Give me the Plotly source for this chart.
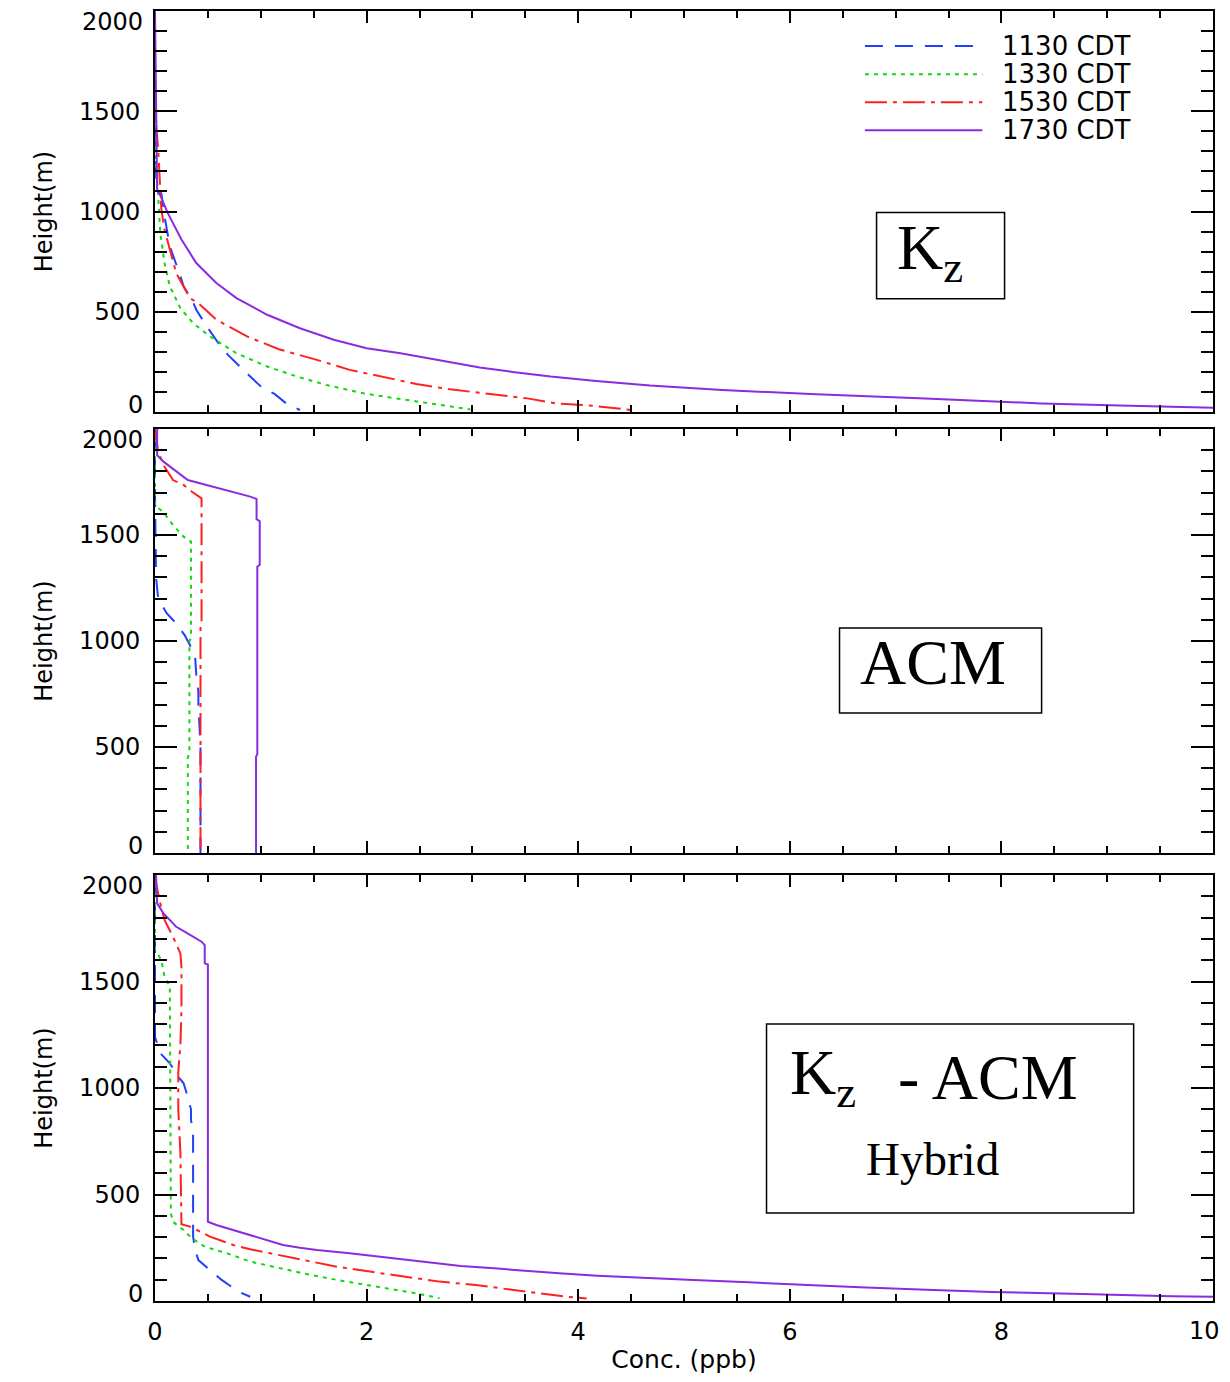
import plotly.graph_objects as go

# ---------------- data ----------------
times = ["1130 CDT", "1330 CDT", "1530 CDT", "1730 CDT"]

# Panel 1 : Kz
kz_1130_c = [0, 0, 0.02, 0.06, 0.09, 0.14, 0.24, 0.27, 0.35, 0.39, 0.49, 0.61, 0.69, 0.80, 0.90, 1.02, 1.13, 1.24, 1.37]
kz_1130_h = [2000, 1250, 1110, 1090, 977, 827, 677, 627, 560, 510, 427, 335, 285, 227, 177, 118, 90, 43, 10]
kz_1330_c = [0, 0, 0.03, 0.05, 0.09, 0.14, 0.24, 0.36, 0.52, 0.77, 1.06, 1.34, 1.62, 1.97, 2.28, 2.63, 2.98]
kz_1330_h = [2000, 1300, 1077, 893, 743, 627, 518, 443, 377, 293, 227, 177, 135, 93, 68, 40, 13]
kz_1530_c = [0, 0, 0.03, 0.05, 0.06, 0.09, 0.14, 0.20, 0.33, 0.41, 0.58, 0.87, 1.17, 1.53, 1.84, 2.16, 2.47, 2.79, 3.10, 3.52, 3.79, 4.10, 4.46, 4.50]
kz_1530_h = [2000, 1500, 1310, 1110, 1010, 910, 810, 693, 568, 543, 460, 377, 313, 260, 210, 173, 140, 113, 95, 68, 43, 33, 13, 10]
kz_1730_c = [0, 0.01, 0.02, 0.05, 0.12, 0.25, 0.39, 0.58, 0.77, 1.06, 1.37, 1.69, 2.00, 2.32, 3.07, 3.38, 3.74, 4.17, 4.68, 5.36, 6.25, 7.28, 8.38, 9.12, 9.80, 10.5]
kz_1730_h = [2000, 1520, 1110, 1080, 993, 860, 743, 643, 568, 485, 418, 360, 318, 293, 222, 200, 177, 155, 132, 110, 88, 67, 43, 33, 23, 15]

# Panel 2 : ACM
acm_1130_c = [0, 0, 0.01, 0.03, 0.11, 0.20, 0.28, 0.33, 0.38, 0.39, 0.41, 0.41, 0.42, 0.43, 0.43]
acm_1130_h = [2000, 1700, 1300, 1200, 1131, 1083, 1028, 981, 920, 840, 760, 700, 600, 500, 0]
acm_1330_c = [0, 0, 0.08, 0.17, 0.27, 0.34, 0.34, 0.325, 0.325, 0.31, 0.31]
acm_1330_h = [2000, 1640, 1607, 1547, 1492, 1469, 1013, 1000, 470, 450, 0]
acm_1530_c = [0, 0.03, 0.09, 0.17, 0.27, 0.35, 0.44, 0.44, 0.43, 0.43]
acm_1530_h = [2000, 1893, 1822, 1759, 1736, 1704, 1673, 1075, 1060, 0]
acm_1730_c = [0.02, 0.02, 0.08, 0.20, 0.31, 0.46, 0.61, 0.77, 0.90, 0.96, 0.96, 0.99, 0.99, 0.967, 0.967, 0.955, 0.955]
acm_1730_h = [2000, 1877, 1846, 1799, 1759, 1739, 1720, 1697, 1681, 1670, 1575, 1565, 1360, 1350, 465, 455, 0]

# Panel 3 : Kz - ACM hybrid
hyb_1130_c = [0, 0, 0.05, 0.14, 0.22, 0.27, 0.29, 0.34, 0.34, 0.36, 0.36, 0.38, 0.41, 0.55, 0.63, 0.79, 0.90]
hyb_1130_h = [2000, 1240, 1163, 1116, 1053, 1022, 991, 900, 850, 800, 302, 239, 192, 130, 99, 44, 20]
hyb_1330_c = [0, 0, 0.06, 0.09, 0.14, 0.15, 0.17, 0.27, 0.35, 0.47, 0.68, 0.90, 1.12, 1.40, 1.72, 2.10, 2.47, 2.69]
hyb_1330_h = [2000, 1650, 1601, 1523, 1476, 412, 372, 333, 294, 255, 224, 185, 161, 130, 99, 67, 36, 13]
hyb_1530_c = [0, 0.01, 0.05, 0.09, 0.17, 0.24, 0.25, 0.25, 0.24, 0.22, 0.22, 0.24, 0.25, 0.33, 0.43, 0.52, 0.74, 0.90, 1.09, 1.40, 1.72, 2.03, 2.35, 2.69, 3.03, 3.27, 3.55, 3.89, 4.08]
hyb_1530_h = [2000, 1961, 1867, 1789, 1710, 1632, 1570, 1366, 1200, 1076, 900, 700, 360, 349, 325, 302, 263, 243, 224, 192, 161, 138, 114, 91, 75, 60, 44, 20, 12]
hyb_1730_c = [0.01, 0.02, 0.08, 0.14, 0.20, 0.28, 0.36, 0.44, 0.47, 0.47, 0.50, 0.50, 0.58, 0.74, 0.90, 1.06, 1.21, 1.37, 1.53, 1.84, 2.16, 2.47, 2.66, 2.89, 3.24, 3.51, 3.82, 4.18, 4.61, 5.09, 5.61, 6.14, 6.66, 7.29, 7.91, 8.77, 9.61, 10.3]
hyb_1730_h = [2000, 1867, 1820, 1789, 1757, 1734, 1710, 1687, 1671, 1585, 1580, 372, 357, 333, 310, 286, 263, 250, 239, 224, 205, 190, 178, 164, 152, 141, 130, 119, 108, 99, 88, 75, 64, 53, 42, 33, 22, 18]

x_ticks = [0, 2, 4, 6, 8, 10]
x_axis_labels = [0, 2, 4, 6, 8]         # labels drawn by the axis itself
x_edge_label = 10                       # label kept inside the page at the right edge
y_inner_labels = [500, 1000, 1500]      # labels drawn by the axis itself
y_edge_labels = [0, 2000]               # labels nudged inside the frame (as in the original)

# ---------------- styles ----------------
colors = ["#2040ff", "#12d812", "#ff2020", "#8a2be2"]
dashes = ["18px,12px", "4px,5px", "22px,6px,4px,6px", "solid"]

panels = [
    ([kz_1130_c, kz_1330_c, kz_1530_c, kz_1730_c], [kz_1130_h, kz_1330_h, kz_1530_h, kz_1730_h]),
    ([acm_1130_c, acm_1330_c, acm_1530_c, acm_1730_c], [acm_1130_h, acm_1330_h, acm_1530_h, acm_1730_h]),
    ([hyb_1130_c, hyb_1330_c, hyb_1530_c, hyb_1730_c], [hyb_1130_h, hyb_1330_h, hyb_1530_h, hyb_1730_h]),
]

fig = go.Figure()
for p, (cs, hs) in enumerate(panels):
    sfx = "" if p == 0 else str(p + 1)
    for i in range(4):
        fig.add_trace(go.Scatter(
            x=cs[i], y=hs[i], mode="lines", name=times[i],
            line=dict(color=colors[i], width=2, dash=dashes[i]),
            xaxis="x" + sfx, yaxis="y" + sfx,
            showlegend=False, hoverinfo="skip",
        ))

# page body has an 8px margin: figure occupies page x 8..1230, y 8..1374
OFF = 8
W, H = 1230 - OFF, 1382 - 2 * OFF
ml, mt = 155 - OFF, 11 - OFF
mr = W - (1213 - OFF)
mb = H - (1301 - OFF)
ph = H - mt - mb

def ydom(top_px, bot_px):
    return [1 - (bot_px - 11) / ph, 1 - (top_px - 11) / ph]

domains = [ydom(11, 412), ydom(429, 853), ydom(875, 1301)]

tickfont = dict(family="DejaVu Sans", size=24, color="black")

layout = dict(
    width=W, height=H,
    margin=dict(l=ml, r=mr, t=mt, b=mb, autoexpand=False),
    paper_bgcolor="white", plot_bgcolor="white",
    showlegend=False,
)

for p in range(3):
    sfx = "" if p == 0 else str(p + 1)
    xa = dict(
        range=[0, 10], tickmode="array", tickvals=x_ticks,
        ticktext=[str(v) if v in x_axis_labels else " " for v in x_ticks],
        ticks="inside", ticklen=12, tickwidth=2, tickcolor="black",
        minor=dict(dtick=0.5, tick0=0, ticks="inside", ticklen=7, tickwidth=1.5, tickcolor="black"),
        showline=True, linecolor="black", linewidth=2, mirror="allticks",
        showgrid=False, zeroline=False, tickfont=tickfont, automargin=False,
        anchor="y" + sfx, domain=[0, 1],
        showticklabels=(p == 2),
    )
    if p == 2:
        xa["title"] = dict(text="Conc. (ppb)", font=dict(family="DejaVu Sans", size=25, color="black"), standoff=9)
        xa["ticklabelstandoff"] = 8
    ya = dict(
        range=[0, 2000], tickmode="array", tickvals=y_inner_labels, ticktext=[str(v) for v in y_inner_labels],
        ticks="inside", ticklen=22, tickwidth=2, tickcolor="black",
        minor=dict(dtick=100, tick0=0, ticks="inside", ticklen=12, tickwidth=1.5, tickcolor="black"),
        showline=True, linecolor="black", linewidth=2, mirror="allticks",
        showgrid=False, zeroline=False, tickfont=tickfont, automargin=False,
        anchor="x" + sfx, domain=domains[p],
        title=dict(text="Height(m)", font=dict(family="DejaVu Sans", size=24, color="black"), standoff=20),
        ticklabelstandoff=8,
    )
    layout["xaxis" + sfx] = xa
    layout["yaxis" + sfx] = ya

fig.update_layout(**layout)

# end labels of the height axes (0 and 2000), nudged inside the frame
for p in range(3):
    sfx = "" if p == 0 else str(p + 1)
    for v, shift in zip(y_edge_labels, [7, -11]):
        fig.add_annotation(xref="paper", yref="y" + sfx, x=0, y=v, xanchor="right", yanchor="middle",
                           xshift=-10, yshift=shift, text=str(v), showarrow=False, font=tickfont)

# right-most concentration label, kept inside the page
fig.add_annotation(xref="x3", yref="paper", x=x_edge_label, y=0, xanchor="right", yanchor="middle",
                   xshift=9, yshift=-30, text=str(x_edge_label), showarrow=False, font=tickfont)

# legend key (drawn in the top panel, as in the original)
legend_rows_h = [1825, 1685, 1545, 1405]
for i in range(4):
    fig.add_shape(type="line", xref="x", yref="y", x0=6.71, x1=7.82,
                  y0=legend_rows_h[i], y1=legend_rows_h[i],
                  line=dict(color=colors[i], width=2, dash=dashes[i]))
    fig.add_annotation(xref="x", yref="y", x=7.99, y=legend_rows_h[i], xanchor="left", yanchor="middle",
                       text=times[i], showarrow=False,
                       font=dict(family="DejaVu Sans", size=26, color="black"))

# Label boxes
box_line = dict(color="black", width=1.5)
fig.add_shape(type="rect", xref="x", yref="y", x0=6.82, x1=8.03, y0=565, y1=995, line=box_line)
fig.add_shape(type="rect", xref="x2", yref="y2", x0=6.47, x1=8.38, y0=660, y1=1061, line=box_line)
fig.add_shape(type="rect", xref="x3", yref="y3", x0=5.78, x1=9.25, y0=413, y1=1300, line=box_line)

serif = "Liberation Serif"
fig.add_annotation(xref="x", yref="y", x=6.99, y=800, xanchor="left", yanchor="middle",
                   text="K<sub>z</sub>", showarrow=False,
                   font=dict(family=serif, size=64, color="black"))
fig.add_annotation(xref="x2", yref="y2", x=7.35, y=900, xanchor="center", yanchor="middle",
                   text="ACM", showarrow=False,
                   font=dict(family=serif, size=64, color="black"))
fig.add_annotation(xref="x3", yref="y3", x=5.98, y=1050, xanchor="left", yanchor="middle",
                   text="K<sub>z</sub>", showarrow=False,
                   font=dict(family=serif, size=64, color="black"))
fig.add_annotation(xref="x3", yref="y3", x=7.0, y=1050, xanchor="left", yanchor="middle",
                   text="- ACM", showarrow=False,
                   font=dict(family=serif, size=64, color="black"))
fig.add_annotation(xref="x3", yref="y3", x=7.35, y=665, xanchor="center", yanchor="middle",
                   text="Hybrid", showarrow=False,
                   font=dict(family=serif, size=47, color="black"))

fig.write_html("out.html")
